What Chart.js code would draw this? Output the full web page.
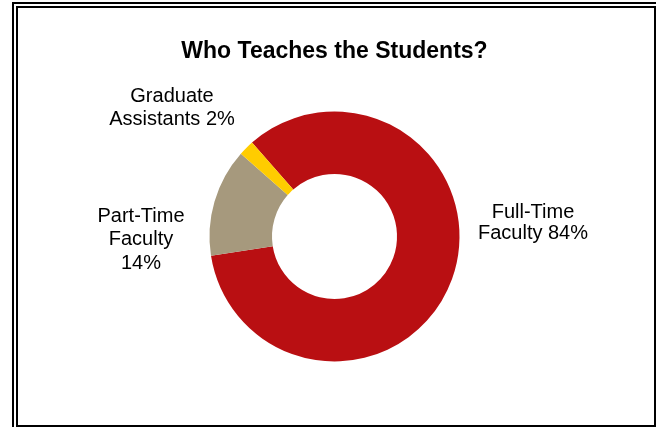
<!DOCTYPE html>
<html>
<head>
<meta charset="utf-8">
<script src="https://cdn.jsdelivr.net/npm/chart.js@4.4.0/dist/chart.umd.min.js"></script>
<style>
  body { margin: 0; background: #fff; }
  #wrap { position: relative; width: 658px; height: 428px; }
  .frameOuter { position: absolute; left: 12px; top: 2px; width: 644px; height: 425px;
                border-left: 2px solid #000; border-top: 2px solid #000; box-sizing: border-box; }
  .frameInner { position: absolute; left: 16px; top: 6px; width: 640px; height: 421px;
                border: 2px solid #000; box-sizing: border-box; }
  canvas { position: absolute; left: 0; top: 0; }
</style>
</head>
<body>
<div id="wrap">
  <div class="frameOuter"></div>
  <div class="frameInner"></div>
  <canvas id="grafico" width="658" height="428"></canvas>
</div>
<script>
const categorias = ['Full-Time Faculty', 'Part-Time Faculty', 'Graduate Assistants'];
const valores = [84, 14, 2];
const cores = ['#B90F12', '#A6997D', '#FFCC00'];
// quebras de linha dos rotulos como aparecem no grafico
const linhasRotulo = [
    ['Full-Time', 'Faculty ' + valores[0] + '%'],
    ['Part-Time', 'Faculty', valores[1] + '%'],
    ['Graduate', 'Assistants ' + valores[2] + '%']
];

// posicao dos rotulos relativa ao centro do anel
const rotuloPlugin = {
    id: 'rotulos',
    afterDatasetsDraw(chart) {
        const ctx = chart.ctx;
        const meta = chart.getDatasetMeta(0);
        const desloc = [
            {dx: 198.5, dy: -24, passo: 21},
            {dx: -193.5, dy: -20.5, passo: 23.5},
            {dx: -162.5, dy: -140, passo: 23}
        ];
        ctx.save();
        ctx.font = '20px "Liberation Sans", Arial, sans-serif';
        ctx.fillStyle = '#000';
        ctx.textAlign = 'center';
        ctx.textBaseline = 'middle';
        meta.data.forEach((arco, i) => {
            const d = desloc[i];
            linhasRotulo[i].forEach((linha, k) => {
                ctx.fillText(linha, arco.x + d.dx, arco.y + d.dy + k * d.passo);
            });
        });
        ctx.restore();
    }
};

const ctx = document.getElementById('grafico').getContext('2d');
const grafico = new Chart(ctx, {
    type: 'doughnut',
    data: {
        labels: categorias,
        datasets: [{
            data: valores,
            backgroundColor: cores,
            borderWidth: 0,
            hoverOffset: 0,
            offset: 0
        }]
    },
    options: {
        responsive: false,
        animation: false,
        cutout: '50%',
        rotation: -41.3,
        layout: {
            padding: {left: 11, right: 0, top: 0, bottom: 66.5}
        },
        plugins: {
            legend: {display: false},
            tooltip: {enabled: false},
            title: {
                display: true,
                text: 'Who Teaches the Students?',
                color: '#000',
                font: {family: '"Liberation Sans", Arial, sans-serif', size: 23, weight: 'bold', lineHeight: 1.2},
                padding: {top: 38, bottom: 45.9}
            }
        }
    },
    plugins: [rotuloPlugin]
});
</script>
</body>
</html>
